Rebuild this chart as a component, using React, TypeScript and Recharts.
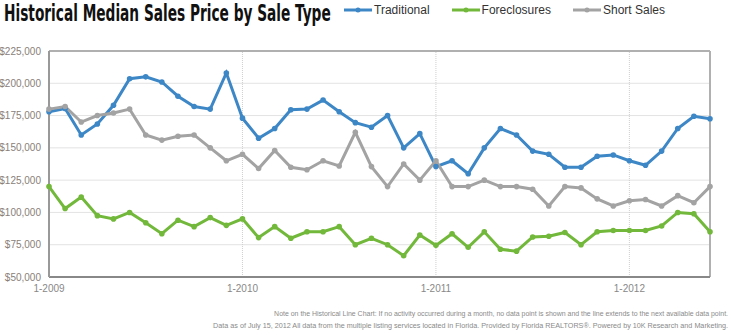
import React, { useLayoutEffect, useRef, useState } from 'react';
import { LineChart, Line, XAxis, YAxis, CartesianGrid, Legend, ReferenceLine } from 'recharts';

const months = [
  '1-2009', '2-2009', '3-2009', '4-2009', '5-2009', '6-2009', '7-2009', '8-2009', '9-2009', '10-2009', '11-2009', '12-2009',
  '1-2010', '2-2010', '3-2010', '4-2010', '5-2010', '6-2010', '7-2010', '8-2010', '9-2010', '10-2010', '11-2010', '12-2010',
  '1-2011', '2-2011', '3-2011', '4-2011', '5-2011', '6-2011', '7-2011', '8-2011', '9-2011', '10-2011', '11-2011', '12-2011',
  '1-2012', '2-2012', '3-2012', '4-2012', '5-2012', '6-2012',
];

const traditional = [
  178000, 180500, 160000, 168500, 183000, 203500, 205000, 201000, 190000, 182000, 180000, 208000,
  173000, 157500, 165000, 179500, 180000, 187000, 178000, 169500, 166000, 175000, 150000, 161000,
  135500, 140000, 130000, 150000, 165000, 160000, 147500, 145000, 135000, 135000, 143500, 144500,
  140000, 136500, 147500, 165000, 174500, 172500,
];

const foreclosures = [
  120000, 103000, 112000, 97500, 95000, 100000, 92000, 83500, 94000, 89000, 96000, 90000,
  95000, 80500, 89000, 80000, 85000, 85000, 89000, 75000, 80000, 75000, 66500, 82500,
  74500, 83500, 73000, 85000, 71500, 70000, 81000, 81500, 84500, 75000, 85000, 86000,
  86000, 86000, 89500, 100000, 99000, 85000,
];

const shortSales = [
  180000, 182000, 170000, 175000, 177000, 180000, 160000, 156000, 159000, 160000, 150000, 140000,
  145000, 134000, 148000, 135000, 133000, 140000, 136000, 162000, 135500, 120000, 137500, 125000,
  140000, 120000, 120000, 125000, 120000, 120000, 118000, 105000, 120000, 119000, 110500, 105000,
  109000, 110000, 105000, 113000, 107500, 120000,
];

const yTicks = [50000, 75000, 100000, 125000, 150000, 175000, 200000, 225000];
const yearTicks = ['1-2010', '1-2011', '1-2012'];

const data = months.map((m, i) => ({
  month: m,
  traditional: traditional[i],
  foreclosures: foreclosures[i],
  shortSales: shortSales[i],
}));

const series = [
  { key: 'traditional', name: 'Traditional', color: '#3d87c6' },
  { key: 'foreclosures', name: 'Foreclosures', color: '#72b83a' },
  { key: 'shortSales', name: 'Short Sales', color: '#a3a3a3' },
];

const font = '"Liberation Sans", Arial, sans-serif';

// squeeze a text horizontally so it fills the given width
const FitText: React.FC<{ x: number; y: number; width: number; anchor?: 'start' | 'end'; style: React.CSSProperties; children: string }> = ({
  x, y, width, anchor = 'start', style, children,
}) => {
  const ref = useRef<SVGTextElement>(null);
  const [sx, setSx] = useState(1);
  useLayoutEffect(() => {
    if (ref.current) {
      const w = ref.current.getComputedTextLength();
      if (w > 0) setSx(width / w);
    }
  }, [width, children]);
  return (
    <g transform={`translate(${x},${y}) scale(${sx},1)`}>
      <text ref={ref} x={0} y={0} textAnchor={anchor} style={style}>
        {children}
      </text>
    </g>
  );
};

const renderLegend = () => (
  <div style={{ display: 'flex', fontFamily: font, fontSize: 12, color: '#333' }}>
    {series.map((s) => (
      <div key={s.key} style={{ display: 'flex', alignItems: 'center', marginRight: 21 }}>
        <svg width={30} height={10} style={{ marginRight: 1 }}>
          <line x1={1} y1={5} x2={29} y2={5} stroke={s.color} strokeWidth={3} />
          <circle cx={15} cy={5} r={2.5} fill={s.color} />
        </svg>
        <span>{s.name}</span>
      </div>
    ))}
  </div>
);

const App: React.FC = () => {
  return (
    <div style={{ position: 'absolute', left: 0, top: 0, width: 731, height: 335, background: '#fff' }}>
      <svg width={731} height={335} style={{ position: 'absolute', left: 0, top: 0 }}>
        <FitText
          x={4}
          y={21}
          width={327}
          style={{ fontFamily: '"Liberation Sans Narrow", "DejaVu Sans Condensed", sans-serif', fontWeight: 'bold', fontSize: 23, fill: '#111' }}
        >
          Historical Median Sales Price by Sale Type
        </FitText>
        <FitText x={728} y={316} width={455} anchor="end" style={{ fontFamily: font, fontSize: 7, fill: '#8a8a8a' }}>
          Note on the Historical Line Chart: If no activity occurred during a month, no data point is shown and the line extends to the next available data point.
        </FitText>
        <FitText x={728} y={328} width={516} anchor="end" style={{ fontFamily: font, fontSize: 7, fill: '#8a8a8a' }}>
          Data as of July 15, 2012 All data from the multiple listing services located in Florida. Provided by Florida REALTORS®. Powered by 10K Research and Marketing.
        </FitText>
      </svg>
      <div style={{ position: 'absolute', left: 0, top: 0 }}>
        <LineChart width={731} height={335} data={data} margin={{ top: 37, right: 21, left: 0, bottom: 38 }}>
          <CartesianGrid horizontal vertical={false} stroke="#e3e3e3" strokeWidth={1} />
          {yearTicks.map((t) => (
            <ReferenceLine key={t} x={t} stroke="#cfcfcf" strokeDasharray="1 1" />
          ))}
          <ReferenceLine y={225000} stroke="#b0b0b0" strokeWidth={2} />
          <ReferenceLine x={months[months.length - 1]} stroke="#b0b0b0" strokeWidth={2} />
          <XAxis
            dataKey="month"
            interval={11}
            tickLine={false}
            axisLine={{ stroke: '#888', strokeWidth: 2 }}
            tick={{ fill: '#888', fontSize: 10, fontFamily: font }}
            height={20}
          />
          <YAxis
            domain={[50000, 225000]}
            ticks={yTicks}
            width={49}
            tickLine={false}
            axisLine={{ stroke: '#999', strokeWidth: 2 }}
            tick={{ fill: '#8a8078', fontSize: 10, fontFamily: font }}
            tickFormatter={(v: number) => `$${v.toLocaleString('en-US')}`}
            tickMargin={2}
          />
          <Legend
            verticalAlign="top"
            align="left"
            content={renderLegend}
            wrapperStyle={{ top: 3, left: 343, width: 380 }}
          />
          {series.map((s) => (
            <Line
              key={s.key}
              type="linear"
              dataKey={s.key}
              name={s.name}
              stroke={s.color}
              strokeWidth={3}
              dot={{ r: 2.8, fill: s.color, stroke: s.color, strokeWidth: 0 }}
              activeDot={false}
              isAnimationActive={false}
            />
          ))}
        </LineChart>
      </div>
    </div>
  );
};

export default App;
